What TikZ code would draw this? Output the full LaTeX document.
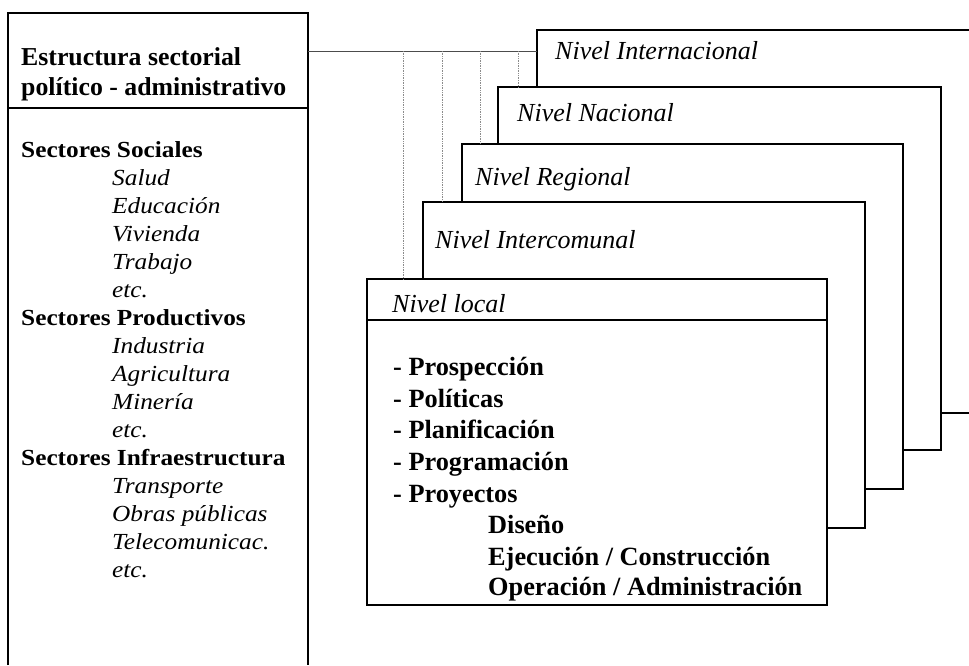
\documentclass[tikz,border=0pt]{standalone}
\usepackage{fontspec}
\setmainfont{Liberation Serif}
\newfontfamily\listfont[FakeStretch=1.1]{Liberation Serif}
\begin{document}
\begin{tikzpicture}[x=1pt,y=-1pt,
  frame/.style={line width=1.7pt},
  lvlbox/.style={draw, line width=1.7pt, fill=white, inner sep=0pt, outer sep=0pt, anchor=north west},
  linkline/.style={line width=0.7pt, black!70},
  guide/.style={line width=0.7pt, black!45, densely dotted},
  lvl/.style={anchor=base west, inner sep=0pt, font=\fontsize{26}{30}\selectfont\itshape},
  hdr/.style={anchor=base west, inner sep=0pt, font=\fontsize{25.8}{30}\selectfont\bfseries},
  lsb/.style={anchor=base west, inner sep=0pt, font=\listfont\fontsize{23}{28}\selectfont\bfseries},
  lsi/.style={anchor=base west, inner sep=0pt, font=\listfont\fontsize{23}{28}\selectfont\itshape},
  locb/.style={anchor=base west, inner sep=0pt, font=\fontsize{26.3}{30}\selectfont\bfseries},
]
\useasboundingbox (0,0) rectangle (969,665);

% ---------- left box ----------
\node[inner sep=0pt, outer sep=0pt, minimum width=300pt, minimum height=652pt, anchor=north west] (sect) at (8,13) {};
\draw[frame] (sect.south west) -- (sect.north west) -- (sect.north east) -- (sect.south east);
\coordinate (hdl) at (8,108);
\coordinate (hdr) at (308,108);
\draw[frame] (hdl) -- (hdr);
\node[hdr] (t1) at (21,65) {Estructura sectorial};
\node[hdr] (t2) at (21,95) {político - administrativo};

\foreach \k/\t/\s/\xx in {
  0/Sectores Sociales/lsb/21, 1/Salud/lsi/112, 2/Educación/lsi/112, 3/Vivienda/lsi/112,
  4/Trabajo/lsi/112, 5/etc./lsi/112, 6/Sectores Productivos/lsb/21, 7/Industria/lsi/112,
  8/Agricultura/lsi/112, 9/Minería/lsi/112, 10/etc./lsi/112, 11/Sectores Infraestructura/lsb/21,
  12/Transporte/lsi/112, 13/Obras públicas/lsi/112, 14/Telecomunicac./lsi/112, 15/etc./lsi/112}
  \node[\s] (s\k) at (\xx,157+28*\k) {\t};

% ---------- connector lines ----------
\coordinate (h0) at (308,51);
\coordinate (h1) at (537,51);
\coordinate (g1) at (403,51);
\coordinate (g2) at (442,51);
\coordinate (g3) at (480,51);
\coordinate (g4) at (518,51);

% ---------- level boxes ----------
\node[lvlbox, draw=none, minimum width=432pt, minimum height=383pt] (intl) at (537,30) {};
\draw[frame] (intl.north east) -- (intl.north west) -- (intl.south west) -- (intl.south east);
\node[lvlbox, minimum width=443pt, minimum height=363pt] (nat) at (498,87) {};
\node[lvlbox, minimum width=441pt, minimum height=345pt] (reg) at (462,144) {};
\node[lvlbox, minimum width=442pt, minimum height=326pt] (inter) at (423,202) {};
\node[lvlbox, minimum width=460pt, minimum height=326pt] (loc) at (367,279) {};
\coordinate (ll) at (367,320);
\coordinate (lr) at (827,320);
\draw[frame] (ll) -- (lr);

\draw[linkline] (h0) -- (h1);
\draw[guide] (g1) -- (g1 |- loc.north);
\draw[guide] (g2) -- (g2 |- inter.north);
\draw[guide] (g3) -- (g3 |- reg.north);
\draw[guide] (g4) -- (g4 |- nat.north);

\node[lvl] (n1) at (555,59) {Nivel Internacional};
\node[lvl] (n2) at (517,121) {Nivel Nacional};
\node[lvl] (n3) at (475,185) {Nivel Regional};
\node[lvl] (n4) at (435,248) {Nivel Intercomunal};
\node[lvl] (n5) at (392,312) {Nivel local};

\node[locb] (p1) at (393,375) {- Prospección};
\node[locb] (p2) at (393,407) {- Políticas};
\node[locb] (p3) at (393,438) {- Planificación};
\node[locb] (p4) at (393,470) {- Programación};
\node[locb] (p5) at (393,502) {- Proyectos};
\node[locb] (p6) at (488,533) {Diseño};
\node[locb] (p7) at (488,565) {Ejecución / Construcción};
\node[locb] (p8) at (488,595) {Operación / Administración};
\end{tikzpicture}
\end{document}
